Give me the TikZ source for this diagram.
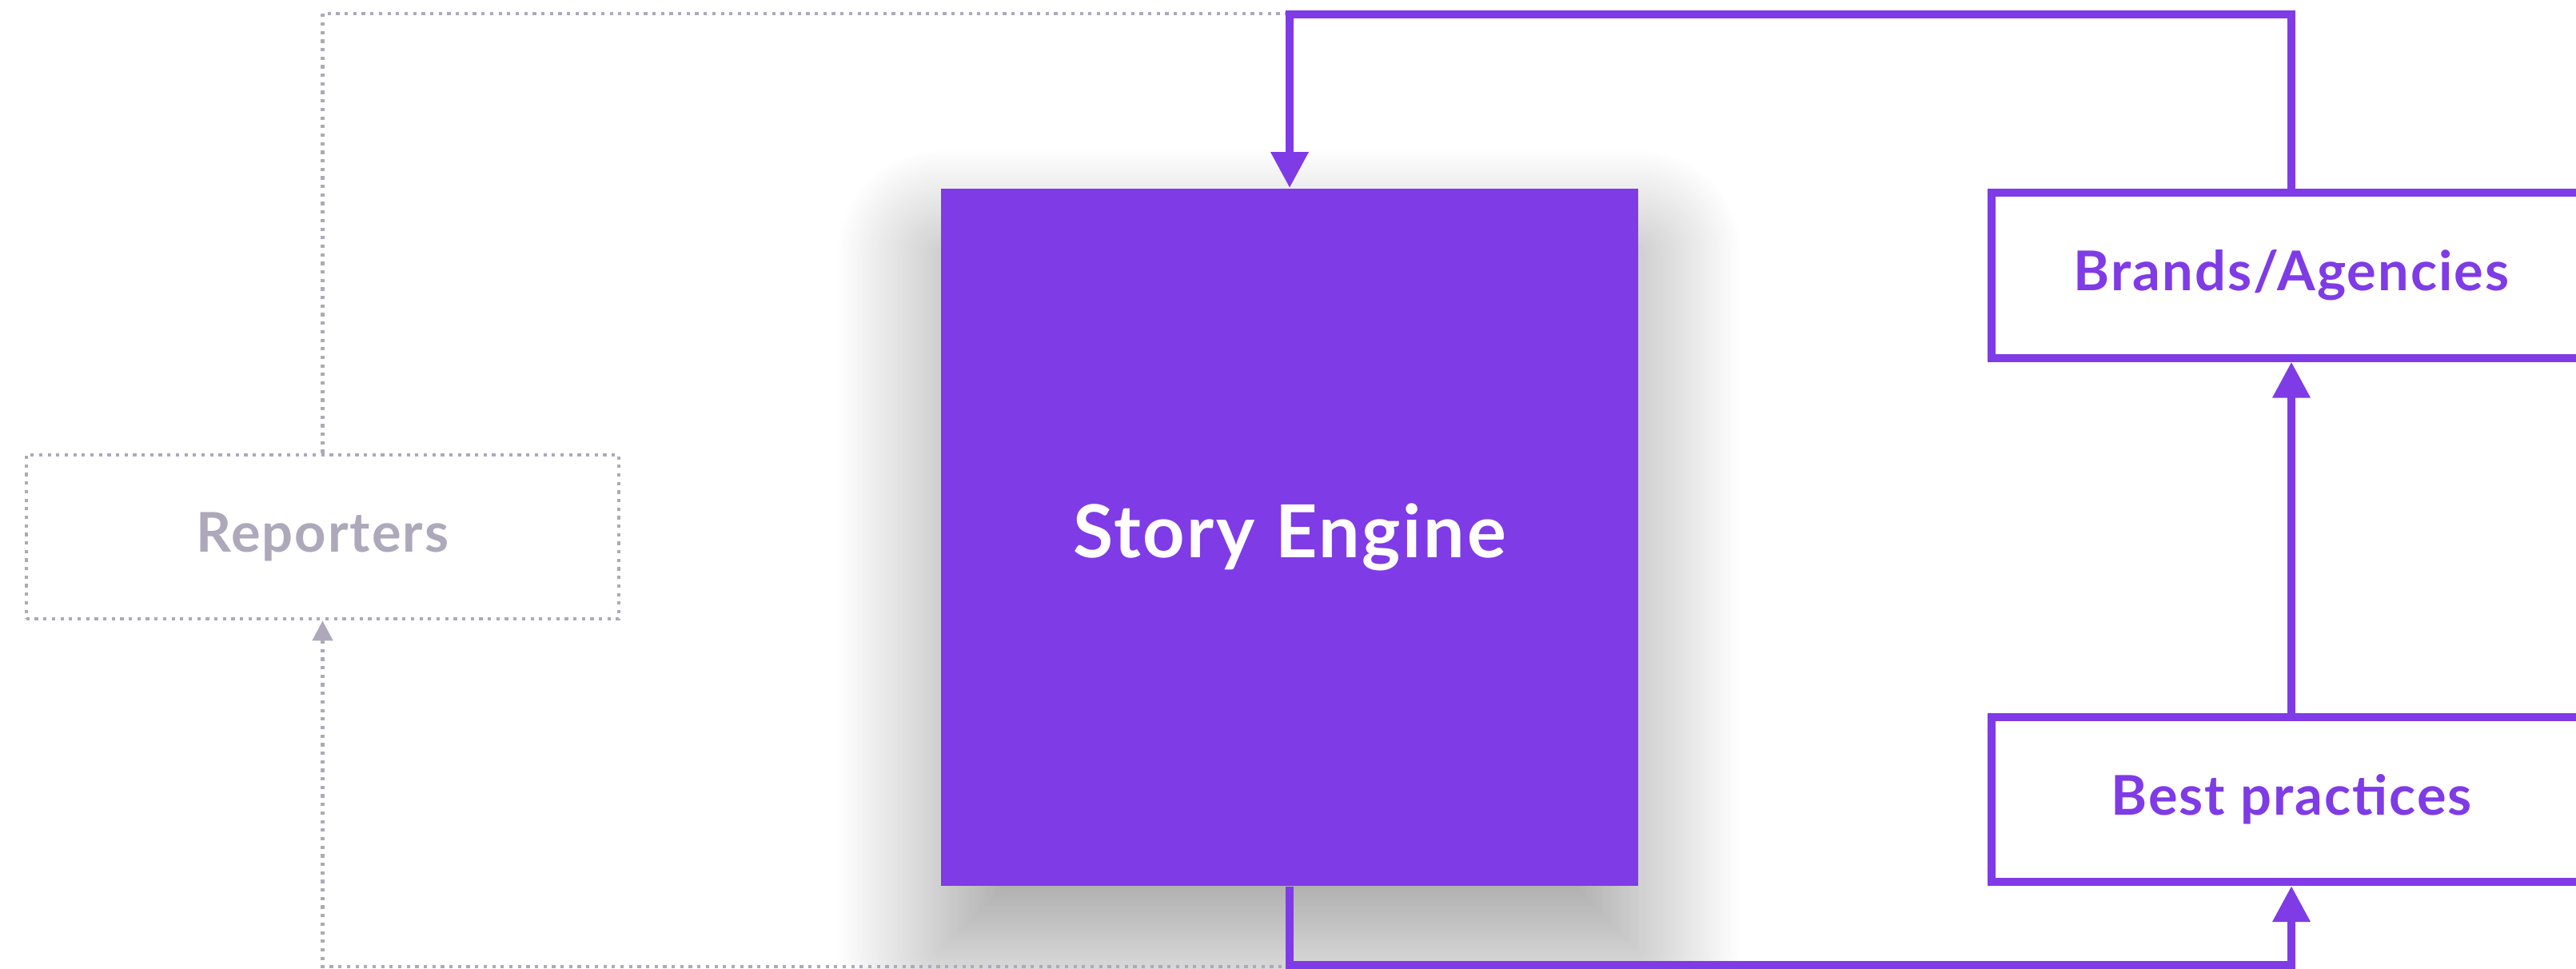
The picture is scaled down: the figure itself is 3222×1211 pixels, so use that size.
\documentclass[tikz,border=0pt]{standalone}
\usepackage{fontspec}
\setmainfont{Lato}
\newfontfamily\labelfont{Lato}[LetterSpace=3]
\usetikzlibrary{arrows.meta}
\usetikzlibrary{shadows.blur}
\definecolor{engine}{HTML}{7F3BE6}
\definecolor{muted}{HTML}{ADA9BA}

\begin{document}
\begin{tikzpicture}[x=0.01cm, y=-0.01cm,
  boxfont/.style={font=\labelfont\bfseries\fontsize{19.5}{23}\selectfont},
  flowbox/.style={boxfont, draw=engine, line width=0.1cm, fill=white, text=engine, minimum width=7.5cm, minimum height=2.06cm},
  ghostbox/.style={boxfont, draw=muted, line width=0.045cm, dash pattern=on 1.2pt off 1.84pt, text=muted, minimum width=7.41cm, minimum height=2.05cm},
  flow/.style={engine, line width=0.1cm, -{Triangle[length=0.45cm, width=0.45cm]}},
  ghost/.style={muted, line width=0.045cm, dash pattern=on 1.2pt off 1.84pt, -{Triangle[length=0.25cm, width=0.25cm]}}]
\useasboundingbox (0,0) rectangle (3222,1211);
\clip (0,0) rectangle (3222,1211);

\node[fill=engine, text=white, minimum width=8.72cm, minimum height=8.72cm, font=\labelfont\bfseries\fontsize{26}{31}\selectfont,
  blur shadow={shadow xshift=0cm, shadow yshift=-0.8cm, shadow blur radius=1.3cm, shadow blur steps=60, shadow opacity=38}] (story) at (1613,672) {Story Engine};
\node[ghostbox] (reporters) at (403.5,671.5) {Reporters};
\node[flowbox] (brands) at (2866,344.5) {Brands/Agencies};
\node[flowbox] (best) at (2866,1000) {Best practices};

\coordinate (ghosttop) at (1614,17);
\coordinate (ghostbot) at (1614,1209);

\draw[ghost, -] (reporters.north) |- (ghosttop);
\draw[ghost] (ghostbot) -| (reporters.south);

\draw[flow] (brands.north) -- ++(0,-218) -| (story.north);
\draw[flow] (story.south) -- ++(0,98) -| (best.south);
\draw[flow] (best.north) -- (brands.south);
\end{tikzpicture}
\end{document}
